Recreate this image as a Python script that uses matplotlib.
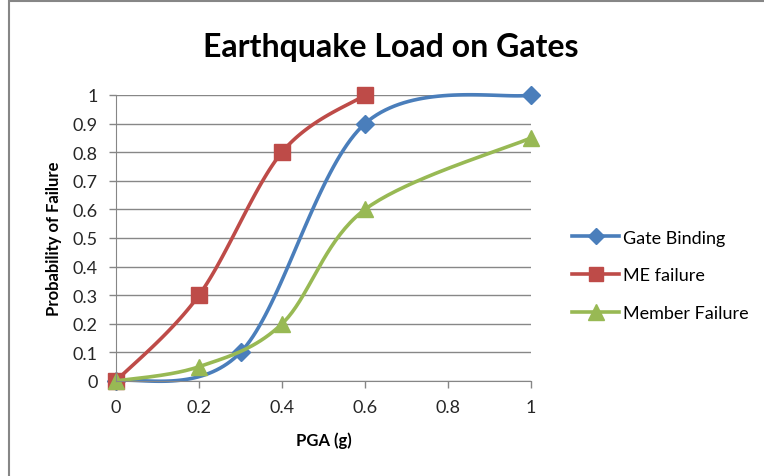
import numpy as np
import matplotlib
matplotlib.use('Agg')
import matplotlib.pyplot as plt
from matplotlib.patches import Rectangle

# data
gate_x = [0, 0.3, 0.6, 1.0]
gate_y = [0, 0.1, 0.9, 1.0]
me_x = [0, 0.2, 0.4, 0.6]
me_y = [0, 0.3, 0.8, 1.0]
member_x = [0, 0.2, 0.4, 0.6, 1.0]
member_y = [0, 0.05, 0.2, 0.6, 0.85]

x_ticks = [0, 0.2, 0.4, 0.6, 0.8, 1]
y_ticks = [0, 0.1, 0.2, 0.3, 0.4, 0.5, 0.6, 0.7, 0.8, 0.9, 1]


def smooth(xs, ys, n=40):
    """Excel style smoothed line (Bezier through points)"""
    p = np.column_stack([xs, ys]).astype(float)
    out = []
    for i in range(len(p) - 1):
        p0 = p[i - 1] if i > 0 else p[i]
        p1, p2 = p[i], p[i + 1]
        p3 = p[i + 2] if i + 2 < len(p) else p[i + 1]
        c1 = p1 + (p2 - p0) / 6
        c2 = p2 - (p3 - p1) / 6
        t = np.linspace(0, 1, n)[:, None]
        seg = ((1 - t) ** 3 * p1 + 3 * (1 - t) ** 2 * t * c1
               + 3 * (1 - t) * t ** 2 * c2 + t ** 3 * p2)
        out.append(seg if i == 0 else seg[1:])
    out = np.vstack(out)
    return out[:, 0], out[:, 1]


plt.rcParams['font.family'] = ['Lato', 'DejaVu Sans']

fig = plt.figure(figsize=(7.64, 4.77), dpi=100)
fig.patches.append(Rectangle((9 / 764, -0.1), 1.2, 1.1 - 1.5 / 477,
                             transform=fig.transFigure, fill=False,
                             edgecolor='#868686', linewidth=1.5))
ax = fig.add_axes([116 / 764, 1 - 382 / 477, 415 / 764, 286 / 477])

series = [
    (gate_x, gate_y, '#4A7EBB', 'D', 9, 'Gate Binding'),
    (me_x, me_y, '#BE4B48', 's', 11, 'ME failure'),
    (member_x, member_y, '#98B954', '^', 12, 'Member Failure'),
]
for xs, ys, c, m, ms, lab in series:
    sx, sy = smooth(xs, ys)
    ax.plot(sx, sy, color=c, lw=2.6, solid_capstyle='round')
    ax.plot(xs, ys, ls='none', marker=m, ms=ms, color=c,
            markeredgecolor=c)
    ax.plot([], [], color=c, lw=2.6, marker=m, ms=ms - 1, label=lab)

ax.set_xlim(0, 1)
ax.set_ylim(0, 1)
ax.set_xticks(x_ticks)
ax.set_xticklabels([f'{v:g}' for v in x_ticks])
ax.set_yticks(y_ticks)
ax.set_yticklabels([f'{v:g}' for v in y_ticks])
ax.tick_params(labelsize=13, colors='#262626', length=5, width=1,
               pad=8)
ax.tick_params(axis='both', color='#868686')
ax.grid(axis='y', color='#878787', lw=1)
ax.set_axisbelow(True)
for s in ['top', 'right']:
    ax.spines[s].set_visible(False)
for s in ['left', 'bottom']:
    ax.spines[s].set_color('#868686')
ax.margins(0)
for ln in ax.lines:
    ln.set_clip_on(False)

ax.set_xlabel('PGA (g)', fontsize=12, fontweight='bold', labelpad=12)
ax.set_ylabel('Probability of Failure', fontsize=12, fontweight='bold',
              labelpad=8)
fig.text(391 / 764, 1 - 48 / 477, 'Earthquake Load on Gates', fontsize=23,
         fontweight='bold', ha='center', va='center')

leg = ax.legend(loc='center left', bbox_to_anchor=(1.06, 0.37),
                frameon=False, fontsize=13, handlelength=2.6,
                labelspacing=1.2, handletextpad=0.2)

fig.savefig('out.png', dpi=100)
